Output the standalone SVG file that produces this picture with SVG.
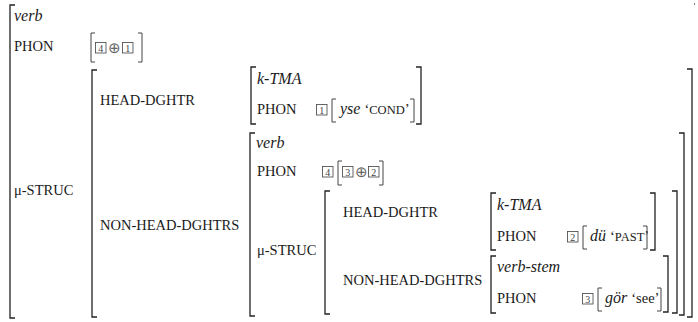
<svg xmlns="http://www.w3.org/2000/svg" width="698" height="322" viewBox="0 0 698 322">
<style>
text,tspan{font-family:"Liberation Serif","Times New Roman",serif}
text{fill:#1a1a1a}
.c{font-size:14.5px}
.i{font-size:16px;font-style:italic}
.sc{font-size:12.5px}
.n{font-size:10px;fill:#444;text-anchor:middle}
.op{font-size:15px;fill:#666;text-anchor:middle}
.b{fill:none;stroke:#222;stroke-width:1.3}
.bx{fill:none;stroke:#555;stroke-width:0.9}
.ib{fill:none;stroke:#444;stroke-width:1}
</style>
<g id="connectors"/>
<g id="avm-root">
<path class="b" d="M15,5 H10 V318 H15"/>
<path class="b" d="M694,4 H694.8"/>
<text class="i" x="14" y="21">verb</text>
<text class="c" x="14" y="51">PHON</text>
<g id="root-phon">
<path class="ib" d="M95,33 H91 V62 H95"/>
<rect class="bx" x="95.5" y="42.5" width="10.5" height="10.5"/><text class="n" x="100.7" y="51.7">4</text>
<text class="op" x="114" y="52.5">⊕</text>
<rect class="bx" x="122.5" y="42.5" width="10.5" height="10.5"/><text class="n" x="127.7" y="51.7">1</text>
<path class="ib" d="M138,33 H142 V62 H138"/>
</g>
<text class="c" x="14" y="195">μ-STRUC</text>
</g>
<g id="mu-struc-1">
<path class="b" d="M97,70 H92 V317 H97"/>
<path class="b" d="M687,69 H692 V317 H687"/>
<text class="c" x="100" y="105">HEAD-DGHTR</text>
<text class="c" x="100" y="230">NON-HEAD-DGHTRS</text>
</g>
<g id="k-tma-1">
<path class="b" d="M256,67 H251 V124 H256"/>
<path class="b" d="M416,67 H421 V124 H416"/>
<text class="i" x="257" y="84">k-TMA</text>
<text class="c" x="257" y="114">PHON</text>
<rect class="bx" x="316.5" y="104.5" width="10.5" height="10.5"/><text class="n" x="321.7" y="113.7">1</text>
<path class="ib" d="M336,99 H332 V122 H336"/>
<text x="340" y="114"><tspan class="i">yse</tspan><tspan class="c" dx="4">‘</tspan><tspan class="sc">COND</tspan><tspan class="c">’</tspan></text>
<path class="ib" d="M410,99 H414 V122 H410"/>
</g>
<g id="verb-2">
<path class="b" d="M255,133 H250 V316 H255"/>
<path class="b" d="M679,133 H684 V315 H679"/>
<text class="i" x="256" y="148">verb</text>
<text class="c" x="257" y="176">PHON</text>
<rect class="bx" x="322.5" y="166.5" width="10.5" height="10.5"/><text class="n" x="327.7" y="175.7">4</text>
<path class="ib" d="M342,161 H338 V185 H342"/>
<rect class="bx" x="342.5" y="166.5" width="10.5" height="10.5"/><text class="n" x="347.7" y="175.7">3</text>
<text class="op" x="361" y="176.5">⊕</text>
<rect class="bx" x="368.5" y="166.5" width="10.5" height="10.5"/><text class="n" x="373.7" y="175.7">2</text>
<path class="ib" d="M379,161 H383 V185 H379"/>
<text class="c" x="257" y="255">μ-STRUC</text>
</g>
<g id="mu-struc-2">
<path class="b" d="M330,191 H325 V314 H330"/>
<path class="b" d="M672,191 H677 V313 H672"/>
<text class="c" x="343" y="217">HEAD-DGHTR</text>
<text class="c" x="343" y="285">NON-HEAD-DGHTRS</text>
</g>
<g id="k-tma-2">
<path class="b" d="M496,193 H491 V250 H496"/>
<path class="b" d="M650,193 H655 V250 H650"/>
<text class="i" x="497" y="210">k-TMA</text>
<text class="c" x="497" y="241">PHON</text>
<rect class="bx" x="567.5" y="231.5" width="10.5" height="10.5"/><text class="n" x="572.7" y="240.7">2</text>
<path class="ib" d="M587,226 H583 V249 H587"/>
<text x="590" y="241"><tspan class="i">dü</tspan><tspan class="c" dx="4">‘</tspan><tspan class="sc">PAST</tspan><tspan class="c">’</tspan></text>
<path class="ib" d="M643,226 H647 V249 H643"/>
</g>
<g id="verb-stem">
<path class="b" d="M496,256 H491 V313 H496"/>
<path class="b" d="M663,256 H668 V312 H663"/>
<text class="i" x="497" y="272">verb-stem</text>
<text class="c" x="497" y="303">PHON</text>
<rect class="bx" x="582.5" y="293.5" width="10.5" height="10.5"/><text class="n" x="587.7" y="302.7">3</text>
<path class="ib" d="M602,288 H598 V311 H602"/>
<text x="605" y="303"><tspan class="i">gör</tspan><tspan class="c" dx="4">‘see’</tspan></text>
<path class="ib" d="M657,288 H661 V311 H657"/>
</g>
</svg>
